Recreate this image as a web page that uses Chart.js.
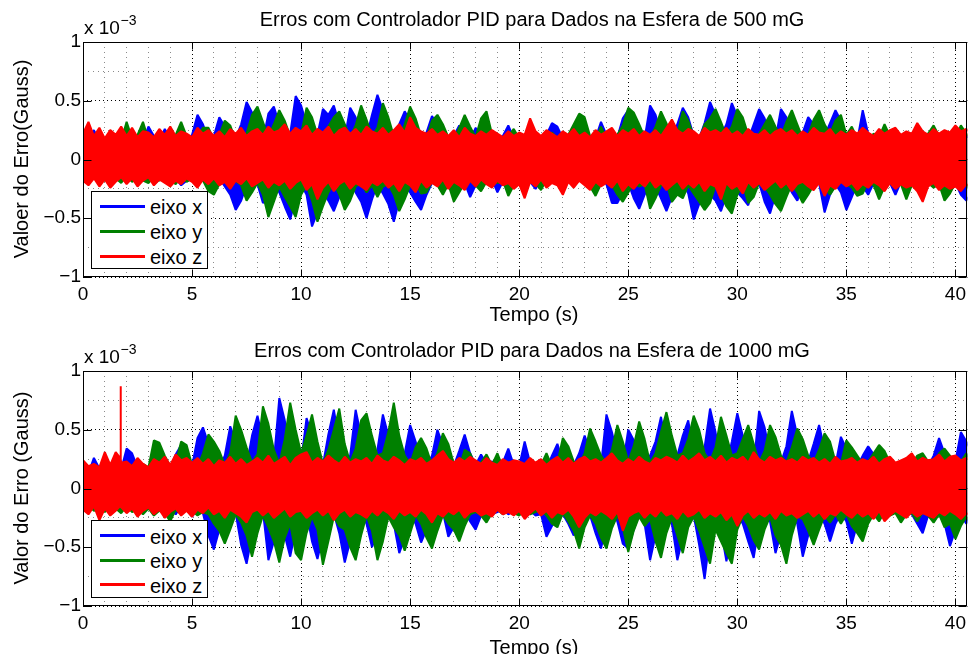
<!DOCTYPE html>
<html><head><meta charset="utf-8">
<script src="https://cdn.jsdelivr.net/npm/chart.js@4.4.0/dist/chart.umd.min.js"></script>
<style>
html,body{margin:0;padding:0;background:#fff;}
#wrap{position:relative;width:972px;height:654px;overflow:hidden;font-family:"Liberation Sans",Arial,Helvetica,sans-serif;color:#000;}
.pane{position:absolute;left:0;width:972px;height:327px;}
.t{position:absolute;white-space:nowrap;font-size:20px;line-height:20px;}
.c{transform:translateX(-50%);}
.yl{position:absolute;width:260px;height:20px;line-height:20px;font-size:20px;text-align:center;transform:rotate(-90deg);transform-origin:50% 50%;white-space:nowrap;}
.lg{position:absolute;width:117px;height:78px;border:1px solid #000;background:#fff;box-sizing:border-box;}
.ln{position:absolute;left:8px;width:45px;height:3px;}
.lt{position:absolute;left:58px;font-size:20px;line-height:20px;white-space:nowrap;}
</style></head>
<body>
<div id="wrap">
  <div class="pane" style="top:0"><canvas id="c1" width="972" height="327"></canvas></div>
  <div class="pane" style="top:327px"><canvas id="c2" width="972" height="327"></canvas></div>

  <div class="t c" style="left:532px;top:8.8px">Erros com Controlador PID para Dados na Esfera de 500 mG</div>
  <div class="t" style="left:84px;top:17.9px;font-size:19px;line-height:19px">x 10</div>
  <div class="t" style="left:120.5px;top:13.2px;font-size:14px;line-height:14px">−3</div>
  <div class="yl" style="left:-109px;top:149px">Valoer do Erro(Gauss)</div>
  <div class="t c" style="left:534px;top:304px">Tempo (s)</div>
  <div class="lg" style="left:91px;top:191px">
    <div class="ln" style="top:13px;background:#0000ff"></div><div class="lt" style="top:5px">eixo x</div>
    <div class="ln" style="top:38px;background:#008000"></div><div class="lt" style="top:30px">eixo y</div>
    <div class="ln" style="top:63px;background:#ff0000"></div><div class="lt" style="top:55px">eixo z</div>
  </div>

  <div class="t c" style="left:532px;top:339.8px">Erros com Controlador PID para Dados na Esfera de 1000 mG</div>
  <div class="t" style="left:84px;top:347.2px;font-size:19px;line-height:19px">x 10</div>
  <div class="t" style="left:120.5px;top:342.1px;font-size:14px;line-height:14px">−3</div>
  <div class="yl" style="left:-109px;top:478px">Valor do Erro (Gauss)</div>
  <div class="t c" style="left:534px;top:636.6px">Tempo (s)</div>
  <div class="lg" style="left:91px;top:520px">
    <div class="ln" style="top:13px;background:#0000ff"></div><div class="lt" style="top:5.5px">eixo x</div>
    <div class="ln" style="top:38px;background:#008000"></div><div class="lt" style="top:30px">eixo y</div>
    <div class="ln" style="top:62px;background:#ff0000"></div><div class="lt" style="top:54.5px">eixo z</div>
  </div>
</div>
<script>
// sample times (s)
const timeS = [
0,0.25,0.5,0.75, 1,1.25,1.5,1.75, 2,2.25,2.5,2.75, 3,3.25,3.5,3.75, 4,4.25,4.5,4.75,
5,5.25,5.5,5.75, 6,6.25,6.5,6.75, 7,7.25,7.5,7.75, 8,8.25,8.5,8.75, 9,9.25,9.5,9.75,
10,10.25,10.5,10.75, 11,11.25,11.5,11.75, 12,12.25,12.5,12.75, 13,13.25,13.5,13.75, 14,14.25,14.5,14.75,
15,15.25,15.5,15.75, 16,16.25,16.5,16.75, 17,17.25,17.5,17.75, 18,18.25,18.5,18.75, 19,19.25,19.5,19.75,
20,20.25,20.5,20.75, 21,21.25,21.5,21.75, 22,22.25,22.5,22.75, 23,23.25,23.5,23.75, 24,24.25,24.5,24.75,
25,25.25,25.5,25.75, 26,26.25,26.5,26.75, 27,27.25,27.5,27.75, 28,28.25,28.5,28.75, 29,29.25,29.5,29.75,
30,30.25,30.5,30.75, 31,31.25,31.5,31.75, 32,32.25,32.5,32.75, 33,33.25,33.5,33.75, 34,34.25,34.5,34.75,
35,35.25,35.5,35.75, 36,36.25,36.5,36.75, 37,37.25,37.5,37.75, 38,38.25,38.5,38.75, 39,39.25,39.5,39.75,
40,40.25,40.5,40.75];

// ===== 500 mG (values in 1e-3 Gauss): upper / lower envelopes =====
const x500Upper = [
0.14,0.18,0.25,0.16, 0.13,0.17,0.15,0.18, 0.16,0.14,0.17,0.15, 0.28,0.20,0.15,0.26, 0.18,0.14,0.17,0.15,
0.21,0.38,0.30,0.17, 0.20,0.36,0.28,0.16, 0.18,0.30,0.49,0.40, 0.20,0.16,0.39,0.45, 0.30,0.18,0.22,0.54,
0.46,0.30,0.18,0.21, 0.43,0.38,0.46,0.30, 0.18,0.44,0.36,0.20, 0.19,0.38,0.55,0.42, 0.21,0.18,0.30,0.41,
0.33,0.19,0.17,0.23, 0.37,0.30,0.18,0.16, 0.20,0.29,0.19,0.16, 0.27,0.18,0.15,0.17, 0.16,0.20,0.29,0.18,
0.15,0.19,0.16,0.18, 0.17,0.21,0.31,0.28, 0.18,0.15,0.19,0.17, 0.16,0.20,0.18,0.32, 0.21,0.17,0.19,0.35,
0.42,0.33,0.20,0.18, 0.46,0.38,0.22,0.17, 0.19,0.30,0.44,0.36, 0.20,0.18,0.31,0.49, 0.38,0.20,0.30,0.48,
0.37,0.19,0.17,0.30, 0.43,0.35,0.20,0.17, 0.43,0.36,0.21,0.18, 0.23,0.36,0.30,0.18, 0.20,0.31,0.42,0.33,
0.18,0.20,0.16,0.42, 0.22,0.17,0.19,0.16, 0.18,0.15,0.20,0.17, 0.16,0.19,0.15,0.22, 0.23,0.17,0.20,0.16,
0.21,0.18,0.20,0.17];
const x500Lower = [
-0.16,-0.20,-0.15,-0.18, -0.14,-0.19,-0.17,-0.13, -0.18,-0.15,-0.20,-0.16, -0.14,-0.21,-0.17,-0.15, -0.20,-0.16,-0.22,-0.18,
-0.17,-0.21,-0.15,-0.22, -0.20,-0.16,-0.23,-0.30, -0.43,-0.35,-0.22,-0.18, -0.21,-0.37,-0.32,-0.20, -0.28,-0.40,-0.51,-0.33,
-0.21,-0.30,-0.57,-0.45, -0.28,-0.35,-0.44,-0.32, -0.21,-0.19,-0.28,-0.36, -0.50,-0.34,-0.21,-0.29, -0.38,-0.53,-0.35,-0.22,
-0.28,-0.36,-0.43,-0.30, -0.20,-0.18,-0.28,-0.21, -0.18,-0.23,-0.20,-0.32, -0.22,-0.18,-0.21,-0.17, -0.28,-0.19,-0.16,-0.20,
-0.18,-0.15,-0.19,-0.25, -0.17,-0.20,-0.16,-0.19, -0.18,-0.15,-0.20,-0.17, -0.19,-0.16,-0.22,-0.18, -0.21,-0.37,-0.37,-0.28,
-0.20,-0.33,-0.42,-0.30, -0.19,-0.23,-0.33,-0.44, -0.32,-0.21,-0.19,-0.29, -0.51,-0.38,-0.22,-0.30, -0.35,-0.44,-0.30,-0.21,
-0.28,-0.33,-0.39,-0.23, -0.20,-0.36,-0.46,-0.30, -0.21,-0.19,-0.28,-0.35, -0.23,-0.19,-0.22,-0.20, -0.45,-0.30,-0.21,-0.28,
-0.43,-0.32,-0.20,-0.23, -0.30,-0.20,-0.18,-0.22, -0.20,-0.30,-0.19,-0.17, -0.21,-0.18,-0.22,-0.19, -0.17,-0.21,-0.19,-0.23,
-0.20,-0.30,-0.35,-0.28];
const y500Upper = [
0.16,0.14,0.18,0.15, 0.17,0.13,0.19,0.16, 0.32,0.18,0.21,0.32, 0.17,0.15,0.19,0.16, 0.18,0.21,0.32,0.20,
0.15,0.19,0.27,0.27, 0.17,0.21,0.33,0.29, 0.16,0.18,0.22,0.38, 0.45,0.32,0.19,0.30, 0.42,0.33,0.20,0.18,
0.22,0.44,0.36,0.21, 0.18,0.28,0.36,0.41, 0.30,0.19,0.29,0.46, 0.34,0.20,0.27,0.48, 0.36,0.20,0.18,0.30,
0.45,0.35,0.20,0.18, 0.33,0.38,0.30,0.19, 0.17,0.27,0.38,0.28, 0.19,0.35,0.41,0.22, 0.18,0.16,0.20,0.26,
0.18,0.16,0.19,0.17, 0.20,0.16,0.23,0.18, 0.17,0.21,0.30,0.39, 0.36,0.20,0.17,0.28, 0.18,0.16,0.21,0.29,
0.44,0.40,0.30,0.19, 0.18,0.28,0.41,0.31, 0.18,0.22,0.41,0.33, 0.20,0.17,0.30,0.35, 0.43,0.32,0.20,0.28,
0.43,0.36,0.21,0.18, 0.22,0.30,0.38,0.28, 0.19,0.32,0.42,0.30, 0.18,0.21,0.34,0.42, 0.30,0.22,0.33,0.38,
0.21,0.28,0.18,0.20, 0.17,0.22,0.19,0.30, 0.20,0.17,0.21,0.18, 0.16,0.20,0.18,0.22, 0.29,0.20,0.17,0.21,
0.19,0.29,0.22,0.18];
const y500Lower = [
-0.15,-0.19,-0.14,-0.17, -0.18,-0.13,-0.16,-0.20, -0.14,-0.19,-0.16,-0.18, -0.20,-0.15,-0.18,-0.14, -0.17,-0.21,-0.15,-0.19,
-0.16,-0.20,-0.18,-0.27, -0.30,-0.21,-0.17,-0.20, -0.18,-0.22,-0.35,-0.28, -0.20,-0.30,-0.49,-0.36, -0.23,-0.32,-0.40,-0.49,
-0.30,-0.22,-0.35,-0.53, -0.40,-0.28,-0.20,-0.30, -0.43,-0.35,-0.23,-0.20, -0.28,-0.22,-0.32,-0.23, -0.21,-0.30,-0.44,-0.34,
-0.22,-0.20,-0.29,-0.28, -0.19,-0.22,-0.30,-0.21, -0.36,-0.28,-0.20,-0.18, -0.22,-0.27,-0.19,-0.17, -0.20,-0.18,-0.31,-0.22,
-0.18,-0.21,-0.17,-0.20, -0.26,-0.17,-0.19,-0.16, -0.20,-0.17,-0.21,-0.18, -0.19,-0.23,-0.31,-0.21, -0.18,-0.22,-0.30,-0.36,
-0.28,-0.20,-0.23,-0.21, -0.42,-0.33,-0.22,-0.20, -0.36,-0.30,-0.33,-0.22, -0.29,-0.36,-0.43,-0.37, -0.22,-0.30,-0.40,-0.46,
-0.30,-0.21,-0.37,-0.32, -0.20,-0.23,-0.30,-0.38, -0.44,-0.32,-0.21,-0.28, -0.37,-0.30,-0.22,-0.20, -0.24,-0.30,-0.23,-0.19,
-0.21,-0.24,-0.31,-0.29, -0.19,-0.22,-0.34,-0.23, -0.20,-0.24,-0.21,-0.34, -0.22,-0.19,-0.23,-0.20, -0.24,-0.21,-0.35,-0.29,
-0.20,-0.23,-0.21,-0.30];
const z500Upper = [
0.22,0.32,0.20,0.27, 0.18,0.25,0.21,0.28, 0.20,0.27,0.19,0.24, 0.23,0.19,0.26,0.21, 0.28,0.20,0.24,0.22,
0.19,0.27,0.22,0.25, 0.20,0.24,0.19,0.26, 0.22,0.27,0.20,0.24, 0.26,0.21,0.28,0.23, 0.25,0.30,0.22,0.27,
0.24,0.29,0.21,0.26, 0.23,0.28,0.20,0.25, 0.27,0.22,0.26,0.21, 0.28,0.24,0.22,0.27, 0.21,0.25,0.30,0.23,
0.36,0.27,0.24,0.22, 0.26,0.21,0.24,0.20, 0.25,0.19,0.27,0.22, 0.20,0.24,0.21,0.25, 0.22,0.19,0.24,0.20,
0.23,0.21,0.35,0.24, 0.20,0.25,0.22,0.19, 0.24,0.21,0.26,0.20, 0.23,0.19,0.25,0.21, 0.24,0.27,0.20,0.25,
0.22,0.26,0.20,0.24, 0.21,0.25,0.20,0.27, 0.34,0.25,0.22,0.26, 0.24,0.20,0.27,0.23, 0.25,0.22,0.27,0.21,
0.24,0.20,0.26,0.22, 0.21,0.25,0.20,0.24, 0.26,0.22,0.25,0.20, 0.24,0.21,0.27,0.23, 0.22,0.26,0.20,0.24,
0.21,0.25,0.22,0.27, 0.23,0.20,0.26,0.22, 0.25,0.27,0.21,0.24, 0.22,0.31,0.24,0.21, 0.26,0.22,0.25,0.23,
0.29,0.24,0.26,0.22];
const z500Lower = [
-0.18,-0.22,-0.16,-0.23, -0.17,-0.24,-0.19,-0.15, -0.21,-0.16,-0.23,-0.18, -0.15,-0.22,-0.17,-0.20, -0.23,-0.18,-0.21,-0.16,
-0.19,-0.24,-0.17,-0.21, -0.16,-0.22,-0.19,-0.25, -0.18,-0.21,-0.16,-0.23, -0.20,-0.17,-0.24,-0.19, -0.22,-0.18,-0.25,-0.20,
-0.17,-0.26,-0.21,-0.34, -0.24,-0.19,-0.27,-0.21, -0.18,-0.25,-0.20,-0.23, -0.26,-0.19,-0.22,-0.18, -0.24,-0.20,-0.27,-0.19,
-0.22,-0.28,-0.18,-0.24, -0.20,-0.23,-0.17,-0.25, -0.19,-0.22,-0.26,-0.18, -0.23,-0.17,-0.21,-0.24, -0.18,-0.22,-0.20,-0.25,
-0.21,-0.33,-0.19,-0.23, -0.17,-0.24,-0.20,-0.22, -0.30,-0.19,-0.24,-0.18, -0.22,-0.26,-0.19,-0.23, -0.20,-0.24,-0.18,-0.27,
-0.21,-0.25,-0.19,-0.23, -0.17,-0.24,-0.20,-0.26, -0.22,-0.18,-0.25,-0.20, -0.24,-0.19,-0.27,-0.21, -0.23,-0.34,-0.20,-0.25,
-0.22,-0.29,-0.19,-0.24, -0.20,-0.26,-0.22,-0.18, -0.24,-0.20,-0.27,-0.21, -0.19,-0.23,-0.26,-0.20, -0.31,-0.22,-0.25,-0.19,
-0.23,-0.20,-0.26,-0.21, -0.24,-0.19,-0.22,-0.27, -0.20,-0.25,-0.21,-0.24, -0.22,-0.27,-0.36,-0.23, -0.20,-0.26,-0.22,-0.25,
-0.23,-0.27,-0.21,-0.24];

// ===== 1000 mG =====
const x1000Upper = [
0.16,0.13,0.26,0.17, 0.14,0.18,0.15,0.16, 0.34,0.30,0.18,0.15, 0.17,0.30,0.20,0.16, 0.18,0.29,0.37,0.30,
0.19,0.43,0.52,0.38, 0.21,0.18,0.28,0.53, 0.40,0.22,0.19,0.45, 0.62,0.41,0.20,0.23, 0.77,0.58,0.30,0.19,
0.23,0.60,0.45,0.22, 0.20,0.46,0.67,0.40, 0.20,0.28,0.67,0.45, 0.22,0.19,0.33,0.63, 0.45,0.23,0.19,0.30,
0.54,0.40,0.22,0.19, 0.28,0.50,0.37,0.20, 0.19,0.32,0.46,0.30, 0.20,0.29,0.21,0.23, 0.18,0.22,0.34,0.20,
0.19,0.40,0.22,0.18, 0.21,0.17,0.28,0.38, 0.23,0.18,0.20,0.30, 0.45,0.32,0.21,0.19, 0.63,0.48,0.28,0.20,
0.50,0.41,0.23,0.20, 0.28,0.40,0.61,0.36, 0.20,0.28,0.45,0.58, 0.30,0.20,0.35,0.68, 0.48,0.23,0.19,0.40,
0.64,0.45,0.23,0.20, 0.66,0.52,0.30,0.19, 0.22,0.36,0.66,0.45, 0.21,0.23,0.38,0.54, 0.33,0.22,0.20,0.44,
0.34,0.22,0.19,0.28, 0.36,0.29,0.20,0.18, 0.21,0.19,0.17,0.20, 0.22,0.18,0.21,0.19, 0.28,0.43,0.30,0.20,
0.23,0.48,0.40,0.31];
const x1000Lower = [
-0.16,-0.20,-0.14,-0.18, -0.15,-0.19,-0.17,-0.14, -0.18,-0.15,-0.21,-0.17, -0.14,-0.20,-0.16,-0.19, -0.17,-0.22,-0.15,-0.18,
-0.24,-0.17,-0.21,-0.40, -0.52,-0.35,-0.20,-0.18, -0.21,-0.48,-0.64,-0.40, -0.22,-0.19,-0.61,-0.45, -0.28,-0.40,-0.58,-0.35,
-0.22,-0.20,-0.45,-0.60, -0.40,-0.23,-0.21,-0.38, -0.63,-0.45,-0.23,-0.20, -0.30,-0.50,-0.38,-0.22, -0.23,-0.30,-0.55,-0.42,
-0.22,-0.30,-0.46,-0.35, -0.21,-0.28,-0.20,-0.41, -0.33,-0.22,-0.20,-0.28, -0.35,-0.23,-0.19,-0.22, -0.20,-0.18,-0.22,-0.19,
-0.17,-0.21,-0.19,-0.23, -0.22,-0.41,-0.32,-0.20, -0.22,-0.30,-0.40,-0.28, -0.21,-0.23,-0.38,-0.51, -0.30,-0.21,-0.28,-0.47,
-0.51,-0.35,-0.22,-0.30, -0.61,-0.40,-0.23,-0.22, -0.30,-0.61,-0.42,-0.28, -0.23,-0.48,-0.77,-0.40, -0.22,-0.35,-0.62,-0.38,
-0.23,-0.30,-0.45,-0.59, -0.30,-0.22,-0.28,-0.55, -0.38,-0.23,-0.21,-0.30, -0.58,-0.40,-0.23,-0.21, -0.30,-0.45,-0.30,-0.21,
-0.28,-0.47,-0.30,-0.20, -0.22,-0.19,-0.23,-0.20, -0.21,-0.18,-0.23,-0.20, -0.22,-0.30,-0.38,-0.23, -0.20,-0.22,-0.30,-0.49,
-0.35,-0.23,-0.30,-0.22];
const y1000Upper = [
0.15,0.18,0.14,0.17, 0.16,0.13,0.18,0.15, 0.17,0.20,0.16,0.21, 0.18,0.41,0.39,0.28, 0.19,0.22,0.40,0.37,
0.20,0.18,0.30,0.46, 0.40,0.32,0.20,0.30, 0.62,0.50,0.35,0.22, 0.29,0.70,0.55,0.33, 0.21,0.42,0.73,0.50,
0.30,0.45,0.63,0.40, 0.21,0.33,0.50,0.68, 0.38,0.22,0.34,0.58, 0.64,0.45,0.28,0.30, 0.48,0.73,0.45,0.28,
0.21,0.35,0.43,0.34, 0.20,0.30,0.47,0.38, 0.21,0.18,0.33,0.30, 0.19,0.22,0.29,0.20, 0.30,0.18,0.21,0.19,
0.18,0.21,0.17,0.22, 0.20,0.30,0.19,0.22, 0.43,0.36,0.23,0.20, 0.30,0.51,0.40,0.28, 0.21,0.33,0.54,0.40,
0.23,0.36,0.57,0.42, 0.22,0.30,0.48,0.65, 0.45,0.28,0.30,0.42, 0.62,0.50,0.30,0.23, 0.35,0.61,0.45,0.28,
0.30,0.42,0.54,0.38, 0.22,0.32,0.54,0.44, 0.28,0.22,0.35,0.51, 0.42,0.28,0.22,0.33, 0.47,0.40,0.23,0.21,
0.41,0.35,0.28,0.21, 0.23,0.30,0.37,0.32, 0.22,0.19,0.23,0.20, 0.21,0.28,0.30,0.23, 0.20,0.30,0.34,0.28,
0.21,0.23,0.30,0.22];
const y1000Lower = [
-0.18,-0.14,-0.19,-0.16, -0.20,-0.15,-0.17,-0.21, -0.15,-0.20,-0.18,-0.22, -0.17,-0.23,-0.19,-0.21, -0.28,-0.18,-0.22,-0.17,
-0.19,-0.23,-0.20,-0.22, -0.30,-0.36,-0.47,-0.35, -0.22,-0.29,-0.40,-0.58, -0.38,-0.23,-0.33,-0.45, -0.63,-0.42,-0.30,-0.55,
-0.61,-0.38,-0.24,-0.35, -0.65,-0.45,-0.24,-0.32, -0.35,-0.50,-0.61,-0.40, -0.23,-0.36,-0.61,-0.45, -0.24,-0.33,-0.40,-0.53,
-0.38,-0.23,-0.30,-0.42, -0.51,-0.36,-0.23,-0.30, -0.35,-0.45,-0.32,-0.22, -0.20,-0.23,-0.29,-0.21, -0.18,-0.22,-0.19,-0.21,
-0.23,-0.19,-0.22,-0.20, -0.18,-0.23,-0.30,-0.33, -0.21,-0.28,-0.36,-0.51, -0.33,-0.23,-0.30,-0.42, -0.51,-0.34,-0.23,-0.33,
-0.54,-0.36,-0.24,-0.32, -0.26,-0.45,-0.59,-0.38, -0.25,-0.40,-0.55,-0.33, -0.24,-0.36,-0.50,-0.64, -0.35,-0.45,-0.55,-0.64,
-0.35,-0.24,-0.32,-0.44, -0.52,-0.35,-0.24,-0.40, -0.48,-0.64,-0.40,-0.24, -0.26,-0.36,-0.48,-0.35, -0.23,-0.29,-0.22,-0.30,
-0.22,-0.32,-0.38,-0.45, -0.30,-0.22,-0.28,-0.20, -0.23,-0.21,-0.29,-0.22, -0.21,-0.28,-0.20,-0.23, -0.29,-0.22,-0.33,-0.30,
-0.43,-0.32,-0.24,-0.31];
const z1000Upper = [
0.24,0.19,0.21,0.18, 0.31,0.20,0.31,0.22, 0.23,0.19,0.26,0.21, 0.18,0.25,0.22,0.27, 0.20,0.29,0.24,0.26,
0.22,0.26,0.21,0.25, 0.19,0.24,0.22,0.27, 0.21,0.25,0.20,0.23, 0.26,0.22,0.28,0.21, 0.24,0.27,0.20,0.26,
0.29,0.31,0.22,0.26, 0.23,0.28,0.24,0.21, 0.27,0.22,0.25,0.23, 0.26,0.21,0.28,0.24, 0.22,0.27,0.24,0.20,
0.25,0.23,0.26,0.21, 0.24,0.28,0.32,0.25, 0.22,0.26,0.23,0.27, 0.24,0.21,0.26,0.22, 0.20,0.25,0.22,0.24,
0.23,0.21,0.26,0.22, 0.25,0.20,0.24,0.27, 0.22,0.26,0.21,0.25, 0.27,0.23,0.25,0.22, 0.26,0.30,0.24,0.21,
0.25,0.22,0.27,0.23, 0.21,0.26,0.24,0.27, 0.25,0.22,0.28,0.23, 0.26,0.30,0.24,0.27, 0.23,0.28,0.22,0.26,
0.24,0.27,0.22,0.31, 0.25,0.22,0.27,0.24, 0.26,0.23,0.25,0.22, 0.27,0.24,0.26,0.22, 0.25,0.21,0.27,0.23,
0.24,0.26,0.22,0.25, 0.23,0.27,0.21,0.25, 0.27,0.22,0.24,0.26, 0.30,0.23,0.26,0.24, 0.25,0.29,0.23,0.27,
0.28,0.24,0.26,0.23];
const z1000Lower = [
-0.18,-0.22,-0.15,-0.27, -0.17,-0.23,-0.19,-0.16, -0.21,-0.17,-0.24,-0.19, -0.16,-0.22,-0.18,-0.25, -0.20,-0.17,-0.23,-0.19,
-0.24,-0.18,-0.21,-0.16, -0.22,-0.19,-0.25,-0.18, -0.21,-0.24,-0.29,-0.20, -0.18,-0.23,-0.19,-0.25, -0.21,-0.17,-0.24,-0.20,
-0.19,-0.25,-0.21,-0.18, -0.23,-0.19,-0.27,-0.21, -0.18,-0.24,-0.20,-0.22, -0.25,-0.19,-0.23,-0.18, -0.21,-0.26,-0.19,-0.23,
-0.20,-0.24,-0.18,-0.22, -0.29,-0.21,-0.24,-0.19, -0.22,-0.18,-0.25,-0.20, -0.19,-0.23,-0.21,-0.24, -0.18,-0.22,-0.20,-0.23,
-0.19,-0.26,-0.21,-0.17, -0.23,-0.19,-0.25,-0.20, -0.22,-0.18,-0.24,-0.33, -0.25,-0.20,-0.23,-0.19, -0.22,-0.26,-0.20,-0.36,
-0.24,-0.21,-0.19,-0.25, -0.20,-0.24,-0.18,-0.23, -0.21,-0.26,-0.19,-0.24, -0.22,-0.18,-0.25,-0.21, -0.24,-0.20,-0.27,-0.22,
-0.32,-0.23,-0.19,-0.25, -0.21,-0.24,-0.20,-0.26, -0.19,-0.23,-0.21,-0.25, -0.22,-0.19,-0.24,-0.20, -0.26,-0.21,-0.23,-0.18,
-0.22,-0.25,-0.20,-0.24, -0.21,-0.26,-0.19,-0.28, -0.23,-0.19,-0.22,-0.25, -0.20,-0.24,-0.21,-0.23, -0.25,-0.20,-0.23,-0.19,
-0.22,-0.26,-0.21,-0.24];
// narrow z-axis spike near t = 1.72 s in the 1000 mG run
const z1000SpikeTime  = [1.70, 1.72, 1.74];
const z1000SpikeUpper = [0.26, 0.87, 0.25];
const z1000SpikeLower = [-0.15, -0.12, -0.16];

const seriesNames = ['eixo x', 'eixo y', 'eixo z'];
const yTickLabels = {'1':'1','0.5':'0.5','0':'0','-0.5':'−0.5','-1':'−1'};

const COLORS = ['#0000ff', '#008000', '#ff0000'];
const FONT = "'Liberation Sans', Arial, Helvetica, sans-serif";
Chart.defaults.font.family = FONT;
Chart.defaults.color = '#000';

function pts(times, vals) { return times.map((t, i) => ({ x: t, y: vals[i] })); }
function mergeSpike(times, vals, st, sv) {
  const a = pts(times, vals).concat(pts(st, sv));
  a.sort((p, q) => p.x - q.x);
  return a;
}
function band(name, color, order, lowerPts, upperPts) {
  return [
    { label: name + ' min', data: lowerPts, borderColor: color, backgroundColor: color, borderWidth: 2, pointRadius: 0, fill: false, order: order },
    { label: name, data: upperPts, borderColor: color, backgroundColor: color, borderWidth: 2, pointRadius: 0, fill: '-1', order: order }
  ];
}

const framePlugin = {
  id: 'frame',
  afterDatasetsDraw(chart) {
    const { ctx, chartArea: a, scales } = chart;
    ctx.save();
    ctx.strokeStyle = '#000'; ctx.lineWidth = 1; ctx.setLineDash([]);
    const L = Math.round(a.left) + 0.5, R = Math.round(a.right) - 0.5, T = Math.round(a.top) + 0.5, B = Math.round(a.bottom) - 0.5;
    ctx.strokeRect(L, T, R - L, B - T);
    ctx.beginPath();
    scales.x.ticks.forEach(t => {
      const px = Math.round(scales.x.getPixelForValue(t.value)) + 0.5;
      ctx.moveTo(px, B); ctx.lineTo(px, B - 7); ctx.moveTo(px, T); ctx.lineTo(px, T + 7);
    });
    scales.y.ticks.forEach(t => {
      const py = Math.round(scales.y.getPixelForValue(t.value)) + 0.5;
      ctx.moveTo(L, py); ctx.lineTo(L + 8, py); ctx.moveTo(R, py); ctx.lineTo(R - 8, py);
    });
    ctx.stroke();
    ctx.restore();
  }
};

function makeChart(id, datasets, padTop, axisH) {
  const tickFont = { family: FONT, size: 19 };
  new Chart(document.getElementById(id), {
    type: 'line',
    data: { datasets: datasets },
    plugins: [framePlugin],
    options: {
      responsive: false, animation: false, events: [],
      layout: { padding: { top: padTop, right: 1, left: 0, bottom: 0 } },
      elements: { line: { tension: 0, borderJoinStyle: 'bevel' }, point: { radius: 0 } },
      plugins: { legend: { display: false }, title: { display: false }, tooltip: { enabled: false },
                 filler: { drawTime: 'beforeDatasetDraw', propagate: false } },
      scales: {
        x: { type: 'linear', position: 'bottom', min: 0, max: 40.55,
             ticks: { stepSize: 5, includeBounds: false, autoSkip: false, maxRotation: 0, padding: 6, font: tickFont, color: '#000' },
             grid: { color: '#000', lineWidth: 1, drawTicks: false },
             border: { display: false, dash: [1, 3] },
             afterFit: s => { s.height = axisH; } },
        xMinor: { type: 'linear', position: 'bottom', min: 0, max: 40.55,
             ticks: { display: false, stepSize: 1, includeBounds: false, autoSkip: false },
             grid: { color: c => (c.tick && Math.round(c.tick.value) % 5 === 0) ? 'rgba(0,0,0,0)' : '#8a8a8a', lineWidth: 1, drawTicks: false },
             border: { display: false, dash: [1, 4] },
             afterFit: s => { s.height = 0; } },
        y: { type: 'linear', position: 'left', min: -1, max: 1,
             ticks: { stepSize: 0.5, padding: 2, font: tickFont, color: '#000',
                      callback: v => yTickLabels[String(v)] !== undefined ? yTickLabels[String(v)] : String(v) },
             grid: { color: '#000', lineWidth: 1, drawTicks: false },
             border: { display: false, dash: [1, 3] },
             afterFit: s => { s.width = 83; } },
        yMinor: { type: 'linear', position: 'left', min: -1, max: 1,
             ticks: { display: false, stepSize: 0.25 },
             grid: { color: c => (c.tick && Math.abs(c.tick.value * 2 - Math.round(c.tick.value * 2)) < 1e-6) ? 'rgba(0,0,0,0)' : '#8a8a8a', lineWidth: 1, drawTicks: false },
             border: { display: false, dash: [1, 4] },
             afterFit: s => { s.width = 0; } }
      }
    }
  });
}

const ds500 = [].concat(
  band(seriesNames[0], COLORS[0], 2, pts(timeS, x500Lower), pts(timeS, x500Upper)),
  band(seriesNames[1], COLORS[1], 1, pts(timeS, y500Lower), pts(timeS, y500Upper)),
  band(seriesNames[2], COLORS[2], 0, pts(timeS, z500Lower), pts(timeS, z500Upper))
);
const ds1000 = [].concat(
  band(seriesNames[0], COLORS[0], 2, pts(timeS, x1000Lower), pts(timeS, x1000Upper)),
  band(seriesNames[1], COLORS[1], 1, pts(timeS, y1000Lower), pts(timeS, y1000Upper)),
  band(seriesNames[2], COLORS[2], 0,
       mergeSpike(timeS, z1000Lower, z1000SpikeTime, z1000SpikeLower),
       mergeSpike(timeS, z1000Upper, z1000SpikeTime, z1000SpikeUpper))
);

makeChart('c1', ds500, 42, 50);
makeChart('c2', ds1000, 44, 48);
</script>
</body></html>
